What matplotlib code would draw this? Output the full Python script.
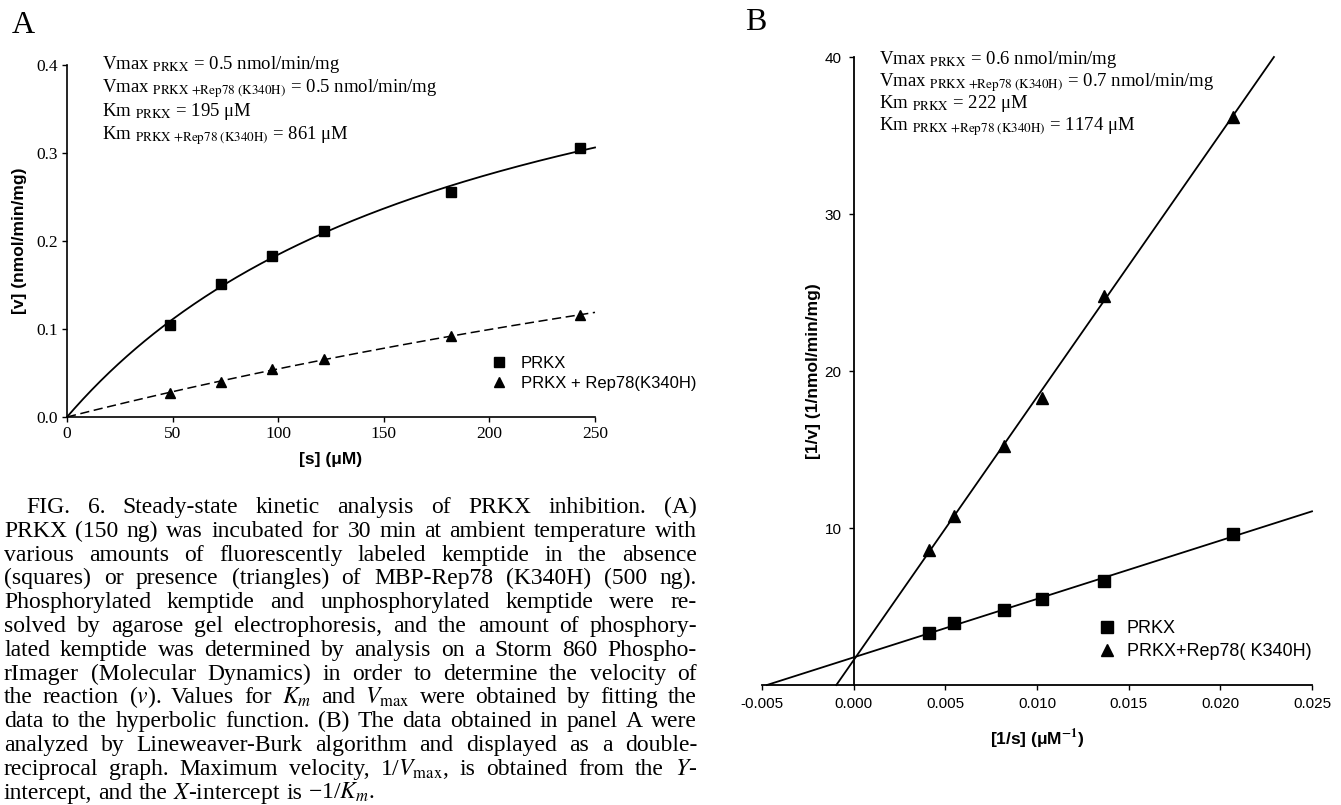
import numpy as np
import matplotlib
matplotlib.use('Agg')
import matplotlib.pyplot as plt
from matplotlib.lines import Line2D

plt.rcParams['mathtext.fontset'] = 'stix'
plt.rcParams['axes.unicode_minus'] = False

W, H = 1341, 805
SERIF = 'Liberation Serif'
SANS = 'Liberation Sans'

# panel A: substrate concentration (uM) and velocity (nmol/min/mg)
s_conc = [48.6, 72.9, 97.2, 121.5, 182.0, 243.0]
v_prkx = [0.105, 0.151, 0.183, 0.211, 0.256, 0.306]
v_rep = [0.027, 0.040, 0.054, 0.066, 0.092, 0.116]

# panel B: double reciprocal values
inv_s = [0.00409, 0.00545, 0.00818, 0.01025, 0.01363, 0.02067]
inv_v_prkx = [3.3, 3.95, 4.78, 5.48, 6.62, 9.6]
inv_v_rep = [8.6, 10.76, 15.2, 18.3, 24.8, 36.2]

textA = [r"Vmax $_{\rm PRKX}$ = 0.5 nmol/min/mg",
         r"Vmax $_{\rm PRKX\ {+}Rep78\ (K340H)}$ = 0.5 nmol/min/mg",
         r"Km $_{\rm PRKX}$ = 195 μM",
         r"Km $_{\rm PRKX\ {+}Rep78\ (K340H)}$ = 861 μM"]
textB = [r"Vmax $_{\rm PRKX}$ = 0.6 nmol/min/mg",
         r"Vmax $_{\rm PRKX\ {+}Rep78\ (K340H)}$ = 0.7 nmol/min/mg",
         r"Km $_{\rm PRKX}$ = 222 μM",
         r"Km $_{\rm PRKX\ {+}Rep78\ (K340H)}$ = 1174 μM"]

caption_lines = [
    "FIG. 6. Steady-state kinetic analysis of PRKX inhibition. (A)",
    "PRKX (150 ng) was incubated for 30 min at ambient temperature with",
    "various amounts of fluorescently labeled kemptide in the absence",
    "(squares) or presence (triangles) of MBP-Rep78 (K340H) (500 ng).",
    "Phosphorylated kemptide and unphosphorylated kemptide were re-",
    "solved by agarose gel electrophoresis, and the amount of phosphory-",
    "lated kemptide was determined by analysis on a Storm 860 Phospho-",
    "rImager (Molecular Dynamics) in order to determine the velocity of",
    r"the reaction ($v$). Values for $K_m$ and $V_\mathrm{max}$ were obtained by fitting the",
    "data to the hyperbolic function. (B) The data obtained in panel A were",
    "analyzed by Lineweaver-Burk algorithm and displayed as a double-",
    r"reciprocal graph. Maximum velocity, 1/$V_\mathrm{max}$, is obtained from the $Y$-",
    r"intercept, and the $X$-intercept is −1/$K_m$.",
]


def fx(px):
    return px / W


def fy(py):
    return 1 - py / H


def mm_fit(s, v):
    # least squares hyperbola, Km by grid search, Vmax linear
    s = np.asarray(s); v = np.asarray(v)
    best = None
    for km in np.linspace(10, 3000, 2991):
        f = s / (km + s)
        vm = (f @ v) / (f @ f)
        err = ((vm * f - v) ** 2).sum()
        if best is None or err < best[0]:
            best = (err, vm, km)
    return best[1], best[2]


fig = plt.figure(figsize=(W / 100, H / 100), dpi=100)

# ---------------- panel A
axA = fig.add_axes([fx(67), fy(417), (595 - 67) / W, (417 - 65) / H])
sg = np.linspace(0, 250, 300)
vm1, km1 = mm_fit(s_conc, v_prkx)
vm2, km2 = mm_fit(s_conc, v_rep)
axA.plot(sg, vm1 * sg / (km1 + sg), color='k', lw=1.3, clip_on=False)
axA.plot(sg, vm2 * sg / (km2 + sg), color='k', lw=1.1, ls=(0, (6, 3)), clip_on=False)
axA.plot(s_conc, v_prkx, 's', color='k', ms=7.5, clip_on=False)
axA.plot(s_conc, v_rep, '^', color='k', ms=7.5, clip_on=False)
axA.set_xlim(0, 250)
axA.set_ylim(0, 0.4)
axA.set_xticks([0, 50, 100, 150, 200, 250])
axA.set_yticks([0.0, 0.1, 0.2, 0.3, 0.4])
axA.set_yticklabels(['0.0', '0.1', '0.2', '0.3', '0.4'])
for sp in ['top', 'right']:
    axA.spines[sp].set_visible(False)
for sp in ['left', 'bottom']:
    axA.spines[sp].set_linewidth(1.2)
axA.tick_params(direction='out', length=3.6, width=1, pad=3, labelsize=12.5)
for lab in axA.get_xticklabels() + axA.get_yticklabels():
    lab.set_family(SERIF)
axA.set_xlabel('[s] (μM)', family=SANS, weight='bold', fontsize=12.5)
axA.set_ylabel('[v] (nmol/min/mg)', family=SANS, weight='bold', fontsize=12.5)
axA.xaxis.set_label_coords(0.5, -0.10)
axA.yaxis.set_label_coords(-0.076, 0.5)

for i, t in enumerate(textA):
    fig.text(fx(102), fy(69 + 23.3 * i), t, family=SERIF, fontsize=13.5, va='baseline')

hA = [Line2D([], [], ls='none', marker='s', color='k', ms=7),
      Line2D([], [], ls='none', marker='^', color='k', ms=7)]
axA.legend(hA, ['PRKX', 'PRKX + Rep78(K340H)'], loc='upper left',
           bbox_to_anchor=(fx(491), fy(356)), bbox_transform=fig.transFigure,
           frameon=False, borderpad=0, borderaxespad=0, handlelength=1.0,
           handletextpad=0.8, labelspacing=0.3, prop={'family': SANS, 'size': 12})

fig.text(fx(12), fy(33), 'A', family=SERIF, fontsize=23, va='baseline')

# ---------------- panel B
axB = fig.add_axes([fx(762), fy(685), (1312 - 762) / W, (685 - 57) / H])
axB.plot(inv_s, inv_v_prkx, 's', color='k', ms=8.5, zorder=3)
axB.plot(inv_s, inv_v_rep, '^', color='k', ms=8, zorder=3)
for yv in (inv_v_prkx, inv_v_rep):
    k, b = np.polyfit(inv_s, yv, 1)
    x0 = -b / k
    x1 = min(0.025, (40 - b) / k)
    axB.plot([x0, x1], [k * x0 + b, k * x1 + b], color='k', lw=1.3, clip_on=False)
axB.set_xlim(-0.005, 0.025)
axB.set_ylim(0, 40)
axB.set_xticks([-0.005, 0.0, 0.005, 0.010, 0.015, 0.020, 0.025])
axB.set_xticklabels(['%.3f' % v for v in axB.get_xticks()])
axB.set_yticks([10, 20, 30, 40])
axB.spines['left'].set_position(('data', 0))
for sp in ['top', 'right']:
    axB.spines[sp].set_visible(False)
for sp in ['left', 'bottom']:
    axB.spines[sp].set_linewidth(1.3)
axB.tick_params(direction='out', length=3.6, width=1, pad=5, labelsize=11)
for lab in axB.get_xticklabels() + axB.get_yticklabels():
    lab.set_family(SANS)
axB.set_xlabel(r'[1/s] (μM$^{\mathbf{-1}}$)', family=SANS, weight='bold', fontsize=12.5)
axB.set_ylabel('[1/v] (1/nmol/min/mg)', family=SANS, weight='bold', fontsize=12.5)
axB.xaxis.set_label_coords(0.5, -0.068)
axB.yaxis.set_label_coords(0.107, 0.5)

for i, t in enumerate(textB):
    fig.text(fx(879), fy(64 + 22 * i), t, family=SERIF, fontsize=13.5, va='baseline')

hB = [Line2D([], [], ls='none', marker='s', color='k', ms=8),
      Line2D([], [], ls='none', marker='^', color='k', ms=8)]
axB.legend(hB, ['PRKX', 'PRKX+Rep78( K340H)'], loc='upper left',
           bbox_to_anchor=(fx(1099), fy(620)), bbox_transform=fig.transFigure,
           frameon=False, borderpad=0, borderaxespad=0, handlelength=0.9,
           handletextpad=0.65, labelspacing=0.33, prop={'family': SANS, 'size': 13})

fig.text(fx(745), fy(30), 'B', family=SERIF, fontsize=23, va='baseline')

# ---------------- caption, justified word by word
r = fig.canvas.get_renderer()
cap_fs = 17
left, right = 4, 697
for i, line in enumerate(caption_lines):
    words = line.split(' ')
    yb = fy(513 + 23.8 * i)
    ts = [fig.text(0, yb, w, family=SERIF, fontsize=cap_fs, va='baseline') for w in words]
    ws = [t.get_window_extent(r).width for t in ts]
    x = left + (22 if i == 0 else 0)
    if i < len(caption_lines) - 1:
        gap = (right - x - sum(ws)) / (len(words) - 1)
    else:
        gap = cap_fs * 100 / 72 * 0.25
    for t, w in zip(ts, ws):
        t.set_x(fx(x))
        x += w + gap

fig.savefig('out.png', dpi=100)
